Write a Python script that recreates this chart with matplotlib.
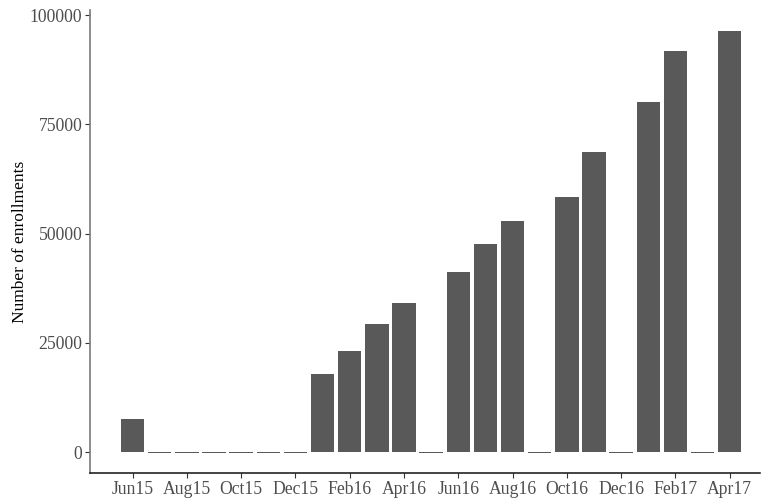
import numpy as np
import matplotlib.pyplot as plt

# monthly enrollments, Jun15 .. Apr17
months = ["Jun15", "Jul15", "Aug15", "Sep15", "Oct15", "Nov15", "Dec15",
          "Jan16", "Feb16", "Mar16", "Apr16", "May16", "Jun16", "Jul16",
          "Aug16", "Sep16", "Oct16", "Nov16", "Dec16", "Jan17", "Feb17",
          "Mar17", "Apr17"]
enrollments = [7500, -250, -250, -250, -250, -250, -250,
               18000, 23100, 29250, 34100, -250, 41150, 47550,
               52850, -250, 58300, 68600, -250, 80100, 91800,
               -250, 96350]
yticks = [0, 25000, 50000, 75000, 100000]

plt.rcParams['font.family'] = ['Liberation Serif', 'DejaVu Serif']

fig = plt.figure(figsize=(7.65, 4.99), dpi=100, facecolor='white')
ax = fig.add_axes([0.1176, 0.0517, 0.876, 0.928])

x = np.arange(len(months))
ax.bar(x, enrollments, width=0.86, color='#595959')

ax.set_xlim(-1.57, 23.12)
ax.set_ylim(-4810, 101150)
ax.set_xticks(x[::2])
ax.set_xticklabels(months[::2])
ax.set_yticks(yticks)
ax.set_yticklabels([str(v) for v in yticks])
ax.set_ylabel("Number of enrollments", fontsize=12.5, color='black', labelpad=1)

for s in ['top', 'right']:
    ax.spines[s].set_visible(False)
ax.spines['left'].set_linewidth(1.2)
ax.spines['left'].set_color('#7a7a7a')
ax.spines['bottom'].set_linewidth(1.1)
ax.spines['bottom'].set_color('#111111')
ax.tick_params(axis='both', length=3.5, width=0.8, color='#333333',
               labelsize=12.7, labelcolor='#4D4D4D', pad=2)

fig.savefig('out.png', dpi=100)
